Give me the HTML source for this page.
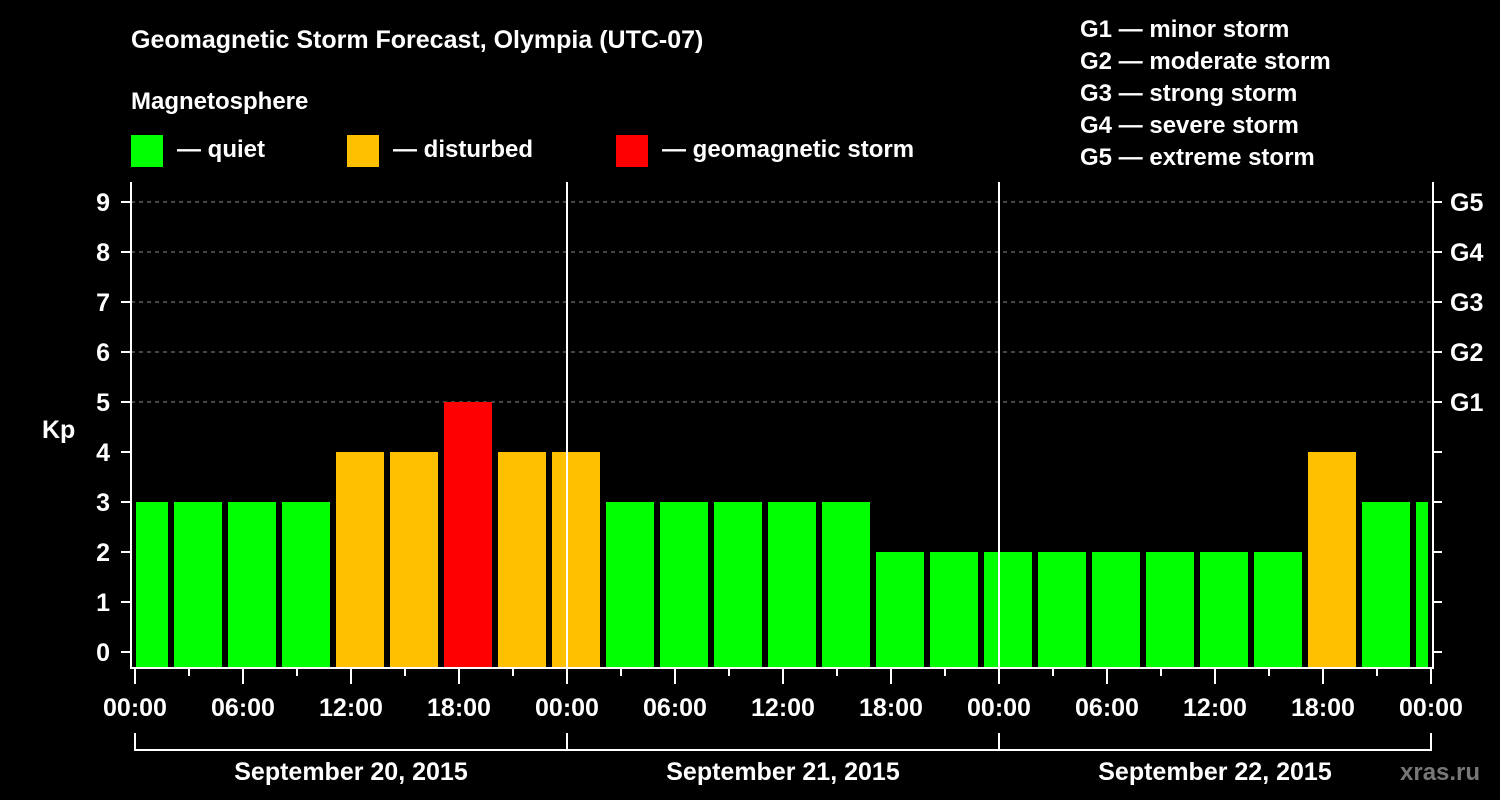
<!DOCTYPE html>
<html><head><meta charset="utf-8"><style>
html,body{margin:0;padding:0;background:#000;}
svg{display:block;font-family:"Liberation Sans",Arial,sans-serif;font-weight:bold;}
</style></head><body>
<svg id="chart" width="1500" height="800" viewBox="0 0 1500 800">
<rect width="1500" height="800" fill="#000"/>
<text x="131" y="48" fill="#fff" font-size="25">Geomagnetic Storm Forecast, Olympia (UTC-07)</text>
<text x="131" y="109" fill="#fff" font-size="24">Magnetosphere</text>
<g><rect x="131" y="135" width="32" height="32" fill="#00ff00"/><text x="177" y="157" fill="#fff" font-size="24">— quiet</text></g>
<g><rect x="347" y="135" width="32" height="32" fill="#ffc000"/><text x="393" y="157" fill="#fff" font-size="24">— disturbed</text></g>
<g><rect x="616" y="135" width="32" height="32" fill="#ff0000"/><text x="662" y="157" fill="#fff" font-size="24">— geomagnetic storm</text></g>
<g fill="#fff" font-size="24">
<text x="1080" y="37">G1 — minor storm</text>
<text x="1080" y="69">G2 — moderate storm</text>
<text x="1080" y="101">G3 — strong storm</text>
<text x="1080" y="133">G4 — severe storm</text>
<text x="1080" y="165">G5 — extreme storm</text>
</g>
<text x="42" y="438" fill="#fff" font-size="25">Kp</text>
<text x="1400" y="780" fill="#777" font-size="24">xras.ru</text>
<defs><clipPath id="pc"><rect x="136" y="150" width="1292" height="518"/></clipPath></defs>
<g id="grid"></g>
<g id="bars" clip-path="url(#pc)"></g>
<g id="axes"></g>
</svg>
<script>
const kpValues=[3,3,3,3,4,4,5,4,4,3,3,3,3,3,2,2,2,2,2,2,2,2,4,3,3];
const yTicks=[0,1,2,3,4,5,6,7,8,9];
const gLabels=["G1","G2","G3","G4","G5"];
const gLevels=[5,6,7,8,9];
const timeLabels=["00:00","06:00","12:00","18:00","00:00","06:00","12:00","18:00","00:00","06:00","12:00","18:00","00:00"];
const dateLabels=["September 20, 2015","September 21, 2015","September 22, 2015"];
const NS="http://www.w3.org/2000/svg";
const x0=135,pxH=18,y0=652,pxK=50,bottom=668,left=131,right=1433;
const xs=h=>x0+h*pxH, ys=k=>y0-k*pxK;
function mk(tag,attrs,parent,text){const e=document.createElementNS(NS,tag);for(const k in attrs)e.setAttribute(k,attrs[k]);if(text!==undefined)e.textContent=text;parent.appendChild(e);return e;}
const grid=document.getElementById('grid'),bars=document.getElementById('bars'),axes=document.getElementById('axes');
gLevels.forEach((k,i)=>{
 const l=mk('line',{x1:left,x2:right,y1:ys(k),y2:ys(k),stroke:'#888','stroke-width':1,'stroke-dasharray':'4,4'},grid);
 
 
 const t=mk('text',{x:1450,y:ys(k)+9,fill:'#fff','font-size':25},axes,gLabels[i]);
 
 
});
kpValues.forEach((v,i)=>{
 const c=xs(i*3+0.5);
 const col=v>=5?'#ff0000':(v>=4?'#ffc000':'#00ff00');
 const r=mk('rect',{x:c-24,y:ys(v),width:48,height:bottom-ys(v),fill:col},bars);
 
 
});
[24,48].forEach(h=>{const l=mk('line',{x1:xs(h),x2:xs(h),y1:182,y2:bottom,stroke:'#fff','stroke-width':2},axes);
 
 });
mk('line',{x1:left,x2:left,y1:182,y2:bottom+1,stroke:'#fff','stroke-width':2},axes);
mk('line',{x1:right,x2:right,y1:182,y2:bottom+1,stroke:'#fff','stroke-width':2},axes);
mk('line',{x1:left-1,x2:right+1,y1:bottom,y2:bottom,stroke:'#fff','stroke-width':2},axes);
yTicks.forEach(k=>{
 mk('line',{x1:121,x2:left,y1:ys(k),y2:ys(k),stroke:'#fff','stroke-width':2},axes);
 mk('line',{x1:right,x2:1442,y1:ys(k),y2:ys(k),stroke:'#fff','stroke-width':2},axes);
 const t=mk('text',{x:110,y:ys(k)+9,fill:'#fff','font-size':25,'text-anchor':'end'},axes,String(k));
 
 
});
for(let h=0;h<=72;h+=3){const maj=h%6===0;mk('line',{x1:xs(h),x2:xs(h),y1:bottom,y2:bottom+(maj?16:8),stroke:'#fff','stroke-width':2},axes);}
timeLabels.forEach((s,i)=>{const t=mk('text',{x:xs(i*6),y:716,fill:'#fff','font-size':25,'text-anchor':'middle'},axes,s);
 
 });
mk('line',{x1:xs(0),x2:xs(72),y1:750,y2:750,stroke:'#fff','stroke-width':2},axes);
[0,24,48,72].forEach(h=>mk('line',{x1:xs(h),x2:xs(h),y1:733,y2:751,stroke:'#fff','stroke-width':2},axes));
dateLabels.forEach((s,i)=>{const t=mk('text',{x:xs(i*24+12),y:780,fill:'#fff','font-size':25,'text-anchor':'middle'},axes,s);
 
 });
</script>
</body></html>
